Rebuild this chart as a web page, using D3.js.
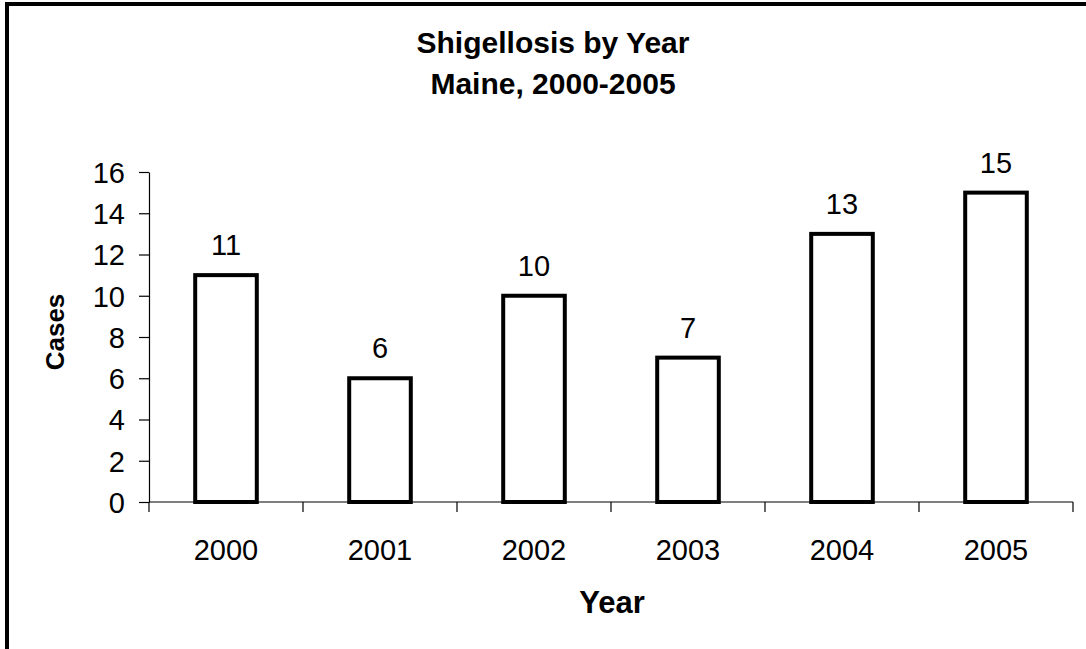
<!DOCTYPE html>
<html>
<head>
<meta charset="utf-8">
<script src="https://cdn.jsdelivr.net/npm/d3@7"></script>
<style>
  html, body { margin: 0; padding: 0; background: #fff; }
  svg { display: block; }
  text { font-family: "Liberation Sans", Arial, sans-serif; fill: #000; }
</style>
</head>
<body>
<svg id="chart" width="1086" height="649"></svg>
<script>
// Shigellosis cases reported in Maine, by year
const years = ["2000", "2001", "2002", "2003", "2004", "2005"];
const cases = [11, 6, 10, 7, 13, 15];
const yTicks = [0, 2, 4, 6, 8, 10, 12, 14, 16];
const titleLines = ["Shigellosis by Year", "Maine, 2000-2005"];

const svg = d3.select("#chart");
const W = 1086, H = 649;
const margin = { left: 149, right: 13, top: 172, bottom: 147 };

// outer frame (runs off the right and bottom edges)
svg.append("rect")
  .attr("x", 7).attr("y", 4)
  .attr("width", W + 20).attr("height", H + 20)
  .attr("fill", "#fff").attr("stroke", "#000").attr("stroke-width", 4);

const x = d3.scaleBand()
  .domain(years)
  .range([margin.left, W - margin.right])
  .paddingInner(0.6).paddingOuter(0.3);

const y = d3.scaleLinear()
  .domain([0, 16])
  .range([H - margin.bottom, margin.top]);

// y axis
const yAxis = svg.append("g")
  .attr("transform", `translate(${margin.left},0)`)
  .call(d3.axisLeft(y).tickValues(yTicks).tickSize(10).tickSizeOuter(0).tickPadding(14));
yAxis.selectAll("text").style("font-size", "29px").attr("dy", "0.36em");
yAxis.select(".domain").attr("stroke-width", 1.2);
yAxis.selectAll(".tick line").attr("stroke-width", 1.2);

// x axis: ticks sit at band boundaries, labels at band centres
const bounds = years.map(d => x(d) - x.step() * x.paddingInner() / 2).concat([W - margin.right]);
const xAxisG = svg.append("g").attr("transform", `translate(0,${y(0)})`);
xAxisG.append("line")
  .attr("x1", margin.left).attr("x2", W - margin.right)
  .attr("stroke", "#000").attr("stroke-width", 1.2);
xAxisG.selectAll("line.tick").data(bounds).join("line")
  .attr("class", "tick")
  .attr("x1", d => d).attr("x2", d => d)
  .attr("y1", 0).attr("y2", 10)
  .attr("stroke", "#000").attr("stroke-width", 1.2);
xAxisG.selectAll("text").data(years).join("text")
  .attr("x", d => x(d) + x.bandwidth() / 2)
  .attr("y", 58)
  .attr("text-anchor", "middle")
  .style("font-size", "29px")
  .text(d => d);

// bars
svg.selectAll("rect.bar").data(years).join("rect")
  .attr("class", "bar")
  .attr("x", d => x(d))
  .attr("width", x.bandwidth())
  .attr("y", (d, i) => y(cases[i]))
  .attr("height", (d, i) => y(0) - y(cases[i]))
  .attr("fill", "#fff").attr("stroke", "#000").attr("stroke-width", 4);

// value labels
svg.selectAll("text.val").data(years).join("text")
  .attr("class", "val")
  .attr("x", d => x(d) + x.bandwidth() / 2)
  .attr("y", (d, i) => y(cases[i]) - 20)
  .attr("text-anchor", "middle")
  .style("font-size", "29px")
  .text((d, i) => cases[i]);

// title
svg.selectAll("text.title").data(titleLines).join("text")
  .attr("class", "title")
  .attr("x", 553).attr("y", (d, i) => 53 + i * 41)
  .attr("text-anchor", "middle")
  .style("font-size", "30px").style("font-weight", "bold")
  .text(d => d);

// axis titles
svg.append("text")
  .attr("x", 612).attr("y", 613)
  .attr("text-anchor", "middle")
  .style("font-size", "31px").style("font-weight", "bold")
  .text("Year");

svg.append("text")
  .attr("transform", "translate(64,332) rotate(-90)")
  .attr("text-anchor", "middle")
  .style("font-size", "26px").style("font-weight", "bold")
  .text("Cases");
</script>
</body>
</html>
